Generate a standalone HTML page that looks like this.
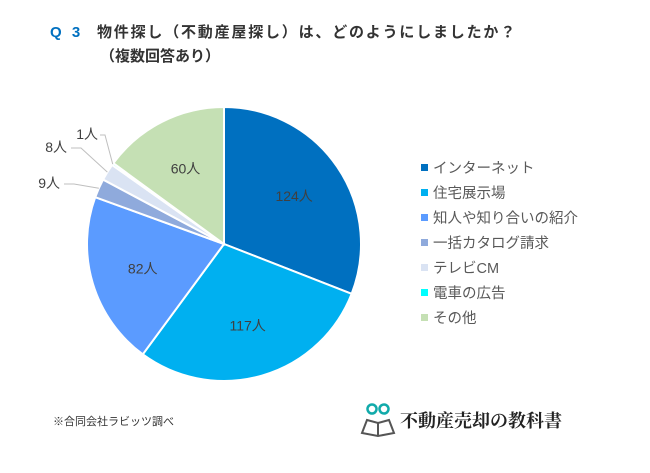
<!DOCTYPE html>
<html><head><meta charset="utf-8"><style>
body{margin:0;width:650px;height:468px;background:#fff;overflow:hidden;font-family:"Liberation Sans","Noto Sans CJK JP",sans-serif;}
</style></head><body>
<svg width="650" height="468">
<text x="50" y="37" font-size="15" font-weight="bold" fill="#0070c0" letter-spacing="3" font-family="Liberation Sans,Noto Sans CJK JP,sans-serif">Q 3</text>
<text x="97" y="37" font-size="15" font-weight="bold" fill="#333" letter-spacing="1.8" font-family="Liberation Sans,Noto Sans CJK JP,sans-serif">物件探し（不動産屋探し）は、どのようにしましたか？</text>
<text x="100" y="61" font-size="15" font-weight="bold" fill="#333" font-family="Liberation Sans,Noto Sans CJK JP,sans-serif">（複数回答あり）</text>
<g id="pie"></g>
<g id="legend"></g>
<text x="53" y="425" font-size="11" fill="#333" font-family="Liberation Sans,Noto Sans CJK JP,sans-serif">※合同会社ラビッツ調べ</text>
<g>
<circle cx="372" cy="409" r="4.5" fill="none" stroke="#1aa" stroke-width="2.5"/>
<circle cx="384" cy="409" r="4.5" fill="none" stroke="#1aa" stroke-width="2.5"/>
<path d="M362 433 L367 420 L378 423 L389 420 L394 433 L378 436 Z" fill="none" stroke="#555" stroke-width="2"/>
<line x1="378" y1="423" x2="378" y2="436" stroke="#555" stroke-width="2"/>
<text x="400" y="427" font-size="18" font-weight="bold" fill="#222" font-family="Noto Serif CJK SC,serif">不動産売却の教科書</text>
</g>
</svg>
<script>
const categories=["インターネット","住宅展示場","知人や知り合いの紹介","一括カタログ請求","テレビCM","電車の広告","その他"];
const values=[124,117,82,9,8,1,60];
const colors=["#0070c0","#00b0f0","#5b9bff","#8faadc","#dae3f3","#00ffff","#c5e0b4"];
const NS="http://www.w3.org/2000/svg";
const cx=224,cy=244,r=137;
const total=values.reduce((a,b)=>a+b,0);
function pt(frac,rad){const a=frac*2*Math.PI-Math.PI/2;return [cx+rad*Math.cos(a),cy+rad*Math.sin(a)];}
const pie=document.getElementById('pie');
let acc=0;
const mids=[];
values.forEach((v,i)=>{
  const f0=acc/total,f1=(acc+v)/total;acc+=v;
  const [x0,y0]=pt(f0,r),[x1,y1]=pt(f1,r);
  const p=document.createElementNS(NS,'path');
  p.setAttribute('d',`M${cx},${cy} L${x0},${y0} A${r},${r} 0 ${f1-f0>0.5?1:0} 1 ${x1},${y1} Z`);
  p.setAttribute('fill',colors[i]);p.setAttribute('stroke','#fff');p.setAttribute('stroke-width','2');
  
  
  pie.appendChild(p);
  mids.push((f0+f1)/2);
});
const inside=[0,1,2,6];
const extOff={3:[-164,-56],4:[-157,-92],5:[-126,-105]};
values.forEach((v,i)=>{
  const t=document.createElementNS(NS,'text');
  t.setAttribute('font-size','14');t.setAttribute('fill','#404040');
  t.setAttribute('font-family','Liberation Sans,Noto Sans CJK JP,sans-serif');
  
  
  t.textContent=v+'人';
  if(inside.includes(i)){
    const [x,y]=pt(mids[i],r*0.62);
    t.setAttribute('x',x);t.setAttribute('y',y+5);t.setAttribute('text-anchor','middle');
  } else {
    const [ex,ey]=pt(mids[i],r);
    const lx=cx+extOff[i][0],ly=cy+extOff[i][1];
    t.setAttribute('x',lx);t.setAttribute('y',ly);t.setAttribute('text-anchor','end');
    const l=document.createElementNS(NS,'polyline');
    const kx=lx+(i===5?2:4),ky=ly-4;
    l.setAttribute('points',`${ex},${ey} ${kx+(i===5?5:10)},${ky} ${kx},${ky}`);
    l.setAttribute('fill','none');l.setAttribute('stroke','#bfbfbf');l.setAttribute('stroke-width','1');
    
    
    pie.appendChild(l);
  }
  pie.appendChild(t);
});
const lg=document.getElementById('legend');
categories.forEach((c,i)=>{
  const y=168+i*25;
  const s=document.createElementNS(NS,'rect');
  s.setAttribute('x',421);s.setAttribute('y',y-4);s.setAttribute('width',7);s.setAttribute('height',7);s.setAttribute('fill',colors[i]);
  
  
  lg.appendChild(s);
  const t=document.createElementNS(NS,'text');
  t.setAttribute('x',433);t.setAttribute('y',y+5);t.setAttribute('font-size','14.5');t.setAttribute('fill','#595959');
  t.setAttribute('font-family','Liberation Sans,Noto Sans CJK JP,sans-serif');
  
  
  t.textContent=c;lg.appendChild(t);
});
</script>
</body></html>
